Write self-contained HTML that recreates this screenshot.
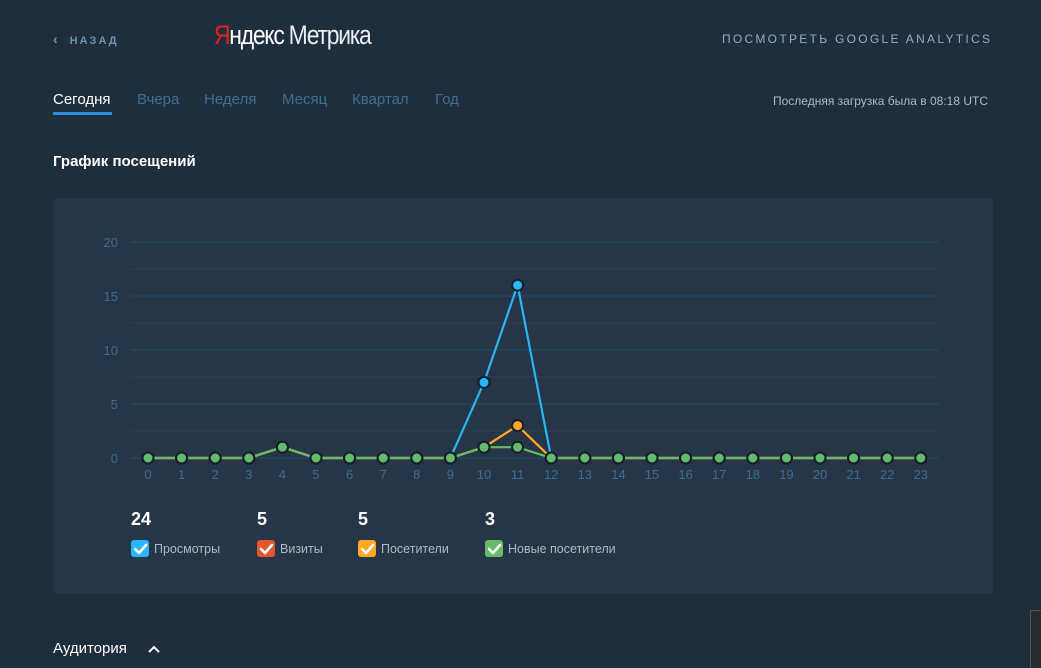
<!DOCTYPE html>
<html><head><meta charset="utf-8"><style>
html,body{margin:0;padding:0;}
body{width:1041px;height:667px;background:#1f2e3c;position:relative;overflow:hidden;font-family:"Liberation Sans","DejaVu Sans",sans-serif;}
.a{position:absolute;white-space:nowrap;}
</style></head><body>
<div class="a" style="left:53px;top:31px;color:#6f93b2;font-size:11px;letter-spacing:2px;font-weight:bold;"><span style="font-size:14px;margin-right:10px;">&#8249;</span>НАЗАД</div>
<div class="a" style="left:214px;top:20px;font-size:27px;letter-spacing:-1.5px;transform:scaleX(0.85);transform-origin:left;"><span style="color:#e0251b">Я</span><span style="color:#fff">ндекс</span> <span style="color:#e8eef3;font-weight:normal">Метрика</span></div>
<div class="a" style="left:722px;top:32px;color:#8fb0c8;font-size:12px;letter-spacing:2.3px;">ПОСМОТРЕТЬ GOOGLE ANALYTICS</div>
<div class="a" style="left:53px;top:91px;color:#fff;font-size:15px;">Сегодня</div>
<div class="a" style="left:53px;top:112px;width:59px;height:3px;background:#2f8de4;"></div>
<div class="a" style="left:137px;top:91px;color:#3f6f95;font-size:15px;">Вчера</div>
<div class="a" style="left:204px;top:91px;color:#3f6f95;font-size:15px;">Неделя</div>
<div class="a" style="left:282px;top:91px;color:#3f6f95;font-size:15px;">Месяц</div>
<div class="a" style="left:352px;top:91px;color:#3f6f95;font-size:15px;">Квартал</div>
<div class="a" style="left:435px;top:91px;color:#3f6f95;font-size:15px;">Год</div>
<div class="a" style="left:773px;top:94px;color:#a9bccb;font-size:12px;">Последняя загрузка была в 08:18 UTC</div>
<div class="a" style="left:53px;top:153px;color:#fff;font-size:15px;font-weight:bold;">График посещений</div>
<div class="a" style="left:54px;top:198px;width:939px;height:396px;background:#263646;border-radius:3px;"></div>
<svg class="a" style="left:0;top:0" width="1041" height="667" font-family="Liberation Sans, sans-serif">
<g stroke="#2b4356" stroke-width="1">
<line x1="131" x2="939" y1="269" y2="269"/><line x1="131" x2="939" y1="323" y2="323"/><line x1="131" x2="939" y1="377" y2="377"/><line x1="131" x2="939" y1="431" y2="431"/>
</g>
<g stroke="#1d4f73" stroke-width="1">
<line x1="131" x2="939" y1="242" y2="242"/><line x1="131" x2="939" y1="296" y2="296"/><line x1="131" x2="939" y1="350" y2="350"/><line x1="131" x2="939" y1="404" y2="404"/><line x1="131" x2="939" y1="458" y2="458"/>
</g>
<g fill="#3a6d95" font-size="13" text-anchor="end">
<text x="118" y="247">20</text><text x="118" y="301">15</text><text x="118" y="355">10</text><text x="118" y="409">5</text><text x="118" y="463">0</text>
</g>
<g fill="#3a6d95" font-size="13" text-anchor="middle" id="xl"></g>
<g id="series"></g>
<g font-size="18" font-weight="bold" fill="#fff">
<text x="131" y="525">24</text><text x="257" y="525">5</text><text x="358" y="525">5</text><text x="485" y="525">3</text>
</g>
<g font-size="12.5" fill="#a9bccb">
<rect x="131" y="540" width="18" height="17" rx="3" fill="#29b6f6"/><text x="154" y="553">Просмотры</text>
<rect x="257" y="540" width="18" height="17" rx="3" fill="#e4572e"/><text x="280" y="553">Визиты</text>
<rect x="358" y="540" width="18" height="17" rx="3" fill="#ffa726"/><text x="381" y="553">Посетители</text>
<rect x="485" y="540" width="18" height="17" rx="3" fill="#66bb6a"/><text x="508" y="553">Новые посетители</text>
</g>
<g fill="none" stroke="#fff" stroke-width="2.6" stroke-linecap="round" stroke-linejoin="round">
<path d="M135 549l4 4 7-8"/><path d="M261 549l4 4 7-8"/><path d="M362 549l4 4 7-8"/><path d="M489 549l4 4 7-8"/>
</g>
<path d="M149 652l5-5 5 5" fill="none" stroke="#fff" stroke-width="2"/>
</svg>
<div class="a" style="left:53px;top:640px;color:#fff;font-size:15px;">Аудитория</div>
<div class="a" style="left:1030px;top:610px;width:11px;height:57px;background:#2a2b2d;border-left:1px solid #555;border-top:1px solid #555;"></div>
<script>
var X=function(i){return 148+i*33.6},Y=function(v){return 458-10.8*v};
var ns="http://www.w3.org/2000/svg",xl=document.getElementById('xl'),sg=document.getElementById('series');
for(var i=0;i<24;i++){var t=document.createElementNS(ns,'text');t.setAttribute('x',X(i));t.setAttribute('y',479);t.textContent=i;xl.appendChild(t);}
function mk(vals){var a=[];for(var i=0;i<24;i++)a.push(vals[i]||0);return a;}
var S=[[mk({4:1,10:7,11:16}),'#29b6f6'],[mk({4:1,10:1,11:3}),'#e4572e'],[mk({4:1,10:1,11:3}),'#ffa726'],[mk({4:1,10:1,11:1}),'#66bb6a']];
S.forEach(function(s){var d='';s[0].forEach(function(v,i){d+=(i?'L':'M')+X(i)+' '+Y(v)});
var p=document.createElementNS(ns,'path');p.setAttribute('d',d);p.setAttribute('fill','none');p.setAttribute('stroke',s[1]);p.setAttribute('stroke-width','2.2');sg.appendChild(p);});
S.forEach(function(s){s[0].forEach(function(v,i){var c=document.createElementNS(ns,'circle');c.setAttribute('cx',X(i));c.setAttribute('cy',Y(v));c.setAttribute('r',5.5);c.setAttribute('fill',s[1]);c.setAttribute('stroke','#14202b');c.setAttribute('stroke-width','2');sg.appendChild(c);});});
</script>
</body></html>
